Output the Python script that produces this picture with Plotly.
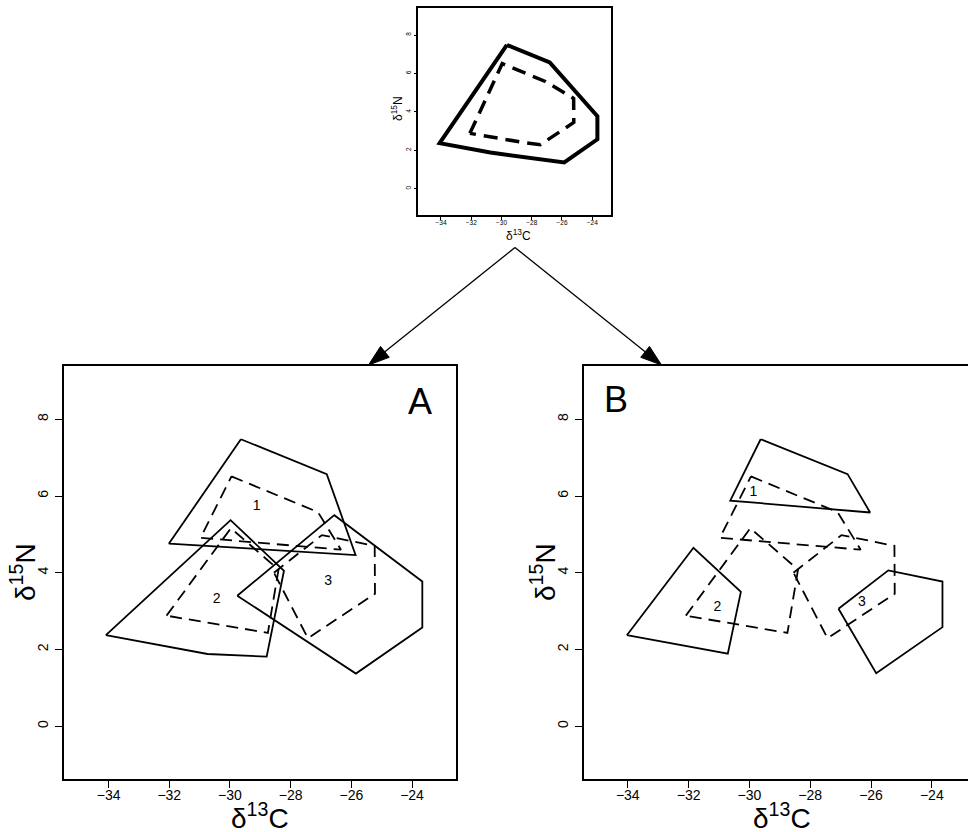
import numpy as np
import plotly.graph_objects as go

# ---- data -------------------------------------------------------------
# Dashed polygons (same in both lower panels)
dash1_x = [-29.95, -27.10, -26.34, -30.97]
dash1_y = [6.51, 5.58, 4.60, 4.91]
dash2_x = [-32.09, -29.97, -28.40, -28.75]
dash2_y = [2.88, 5.16, 4.08, 2.43]
dash3_x = [-28.55, -26.97, -25.23, -25.22, -27.43]
dash3_y = [4.00, 4.98, 4.70, 3.45, 2.29]

# Solid polygons, panel A
a1_x = [-29.64, -26.81, -25.86, -32.01]
a1_y = [7.48, 6.57, 4.46, 4.76]
a2_x = [-34.09, -30.74, -28.79, -28.22, -29.98]
a2_y = [2.37, 1.88, 1.81, 4.05, 5.37]
a3_x = [-29.76, -26.56, -23.66, -23.66, -25.85]
a3_y = [3.40, 5.50, 3.77, 2.57, 1.37]

# Solid polygons, panel B
b1_x = [-29.63, -26.77, -26.03, -30.63]
b1_y = [7.48, 6.57, 5.57, 5.88]
b2_x = [-34.03, -31.84, -30.28, -30.71]
b2_y = [2.37, 4.65, 3.50, 1.89]
b3_x = [-27.07, -25.43, -23.65, -23.65, -25.83]
b3_y = [3.06, 4.06, 3.77, 2.58, 1.38]

# Overall hulls, top panel
top_solid_x = [-29.64, -26.81, -23.66, -23.66, -25.85, -30.74, -34.09]
top_solid_y = [7.48, 6.57, 3.77, 2.57, 1.37, 1.88, 2.37]
top_dash_x = [-32.09, -29.95, -27.10, -25.23, -25.22, -27.43, -28.75]
top_dash_y = [2.88, 6.51, 5.58, 4.70, 3.45, 2.29, 2.43]

# Group labels
labels = ["1", "2", "3"]
a_lab_x = [-29.12, -30.44, -26.76]
a_lab_y = [5.72, 3.29, 3.77]
b_lab_x = [-29.87, -31.05, -26.30]
b_lab_y = [6.08, 3.10, 3.21]

x_ticks = [-34, -32, -30, -28, -26, -24]
y_ticks = [0, 2, 4, 6, 8]

# ---- layout helpers ---------------------------------------------------
W, H = 968, 832
FONT = "Liberation Sans, Arial, sans-serif"


def px(x):
    return x / W


def py(y):
    return 1 - y / H


def closed(xs, ys):
    return list(xs) + [xs[0]], list(ys) + [ys[0]]


fig = go.Figure()


def poly(xs, ys, ax, width, dash):
    cx, cy = closed(xs, ys)
    fig.add_trace(go.Scatter(
        x=cx, y=cy, mode="lines", xaxis=ax[0], yaxis=ax[1],
        line=dict(color="black", width=width, dash=dash),
        hoverinfo="skip", showlegend=False))


DASH = "12px,7px"

# top panel
poly(top_solid_x, top_solid_y, ("x", "y"), 4, "solid")
poly(top_dash_x, top_dash_y, ("x", "y"), 3.5, "14px,8px")

# panel A
for xs, ys in [(dash1_x, dash1_y), (dash2_x, dash2_y), (dash3_x, dash3_y)]:
    poly(xs, ys, ("x2", "y2"), 1.8, DASH)
for xs, ys in [(a1_x, a1_y), (a2_x, a2_y), (a3_x, a3_y)]:
    poly(xs, ys, ("x2", "y2"), 1.8, "solid")
fig.add_trace(go.Scatter(x=a_lab_x, y=a_lab_y, text=labels, mode="text",
                         xaxis="x2", yaxis="y2", showlegend=False,
                         textfont=dict(family=FONT, size=14, color="black"),
                         hoverinfo="skip"))

# panel B
for xs, ys in [(dash1_x, dash1_y), (dash2_x, dash2_y), (dash3_x, dash3_y)]:
    poly(xs, ys, ("x3", "y3"), 1.8, DASH)
for xs, ys in [(b1_x, b1_y), (b2_x, b2_y), (b3_x, b3_y)]:
    poly(xs, ys, ("x3", "y3"), 1.8, "solid")
fig.add_trace(go.Scatter(x=b_lab_x, y=b_lab_y, text=labels, mode="text",
                         xaxis="x3", yaxis="y3", showlegend=False,
                         textfont=dict(family=FONT, size=14, color="black"),
                         hoverinfo="skip"))


def xax(domain, rng, fs, tl, lw, anchor, mirror=True, standoff=2):
    return dict(domain=domain, range=rng, anchor=anchor, tickvals=x_ticks,
                ticks="outside", ticklen=tl, tickwidth=lw * 0.7, tickcolor="black",
                showline=True, linecolor="black", linewidth=lw, mirror=mirror,
                showgrid=False, zeroline=False, ticklabelstandoff=standoff,
                tickfont=dict(family=FONT, size=fs, color="black"))


def yax(domain, rng, fs, tl, lw, anchor, mirror=True, standoff=2):
    return dict(domain=domain, range=rng, anchor=anchor, tickvals=y_ticks,
                ticks="outside", ticklen=tl, tickwidth=lw * 0.7, tickcolor="black",
                showline=True, linecolor="black", linewidth=lw, mirror=mirror,
                showgrid=False, zeroline=False, tickangle=-90,
                ticklabelstandoff=standoff,
                tickfont=dict(family=FONT, size=fs, color="black"))


top_xd = [px(418.3), px(610.7)]
top_yd = [py(215), py(8.3)]
a_xd = [px(64), px(456)]
b_xd = [px(584), 1.0]
low_yd = [py(779), py(366)]

fig.update_layout(
    width=W, height=H, margin=dict(l=0, r=0, t=0, b=0),
    paper_bgcolor="white", plot_bgcolor="white", showlegend=False,
    xaxis=xax(top_xd, [-35.5, -22.78], 6.5, 3, 1.5, "y", standoff=-3),
    yaxis=yax(top_yd, [-1.37, 9.39], 6.5, 3, 1.5, "x", standoff=0),
    xaxis2=xax(a_xd, [-35.47, -22.55], 14, 7, 1.8, "y2", standoff=-5),
    yaxis2=yax(low_yd, [-1.38, 9.39], 14, 7, 1.8, "x2", standoff=2),
    xaxis3=xax(b_xd, [-35.44, -22.81], 14, 7, 1.8, "y3", standoff=-5),
    yaxis3=yax(low_yd, [-1.38, 9.39], 14, 7, 1.8, "x3", mirror=False, standoff=2),
)

ann = []


def text(x, y, s, size, angle=0):
    ann.append(dict(x=px(x), y=py(y), xref="paper", yref="paper", text=s,
                    showarrow=False, textangle=angle, xanchor="center",
                    yanchor="middle", font=dict(family=FONT, size=size, color="black")))


XT = "δ<sup>13</sup>C"
YT = "δ<sup>15</sup>N"
text(518, 235, XT, 12)
text(397, 109, YT, 12, -90)
text(260, 816, XT, 28)
text(23, 572, YT, 28, -90)
text(782, 816, XT, 28)
text(543, 572, YT, 28, -90)
text(420, 401, "A", 36)
text(615.5, 399, "B", 36)
fig.update_layout(annotations=ann)

# arrows from the overall panel down to the two panels
shapes = []
tail = np.array([515.0, 247.5])
for tip in (np.array([368.5, 365.0]), np.array([661.5, 365.0])):
    d = (tip - tail) / np.linalg.norm(tip - tail)
    n = np.array([-d[1], d[0]])
    base = tip - 21 * d
    shapes.append(dict(type="line", xref="paper", yref="paper",
                       x0=px(tail[0]), y0=py(tail[1]), x1=px(base[0]), y1=py(base[1]),
                       line=dict(color="black", width=1.3)))
    c1 = base + 7 * n
    c2 = base - 7 * n
    path = "M {},{} L {},{} L {},{} Z".format(px(tip[0]), py(tip[1]),
                                               px(c1[0]), py(c1[1]),
                                               px(c2[0]), py(c2[1]))
    shapes.append(dict(type="path", xref="paper", yref="paper", path=path,
                       fillcolor="black", line=dict(color="black", width=1)))
fig.update_layout(shapes=shapes)

fig.write_html("out.html")
